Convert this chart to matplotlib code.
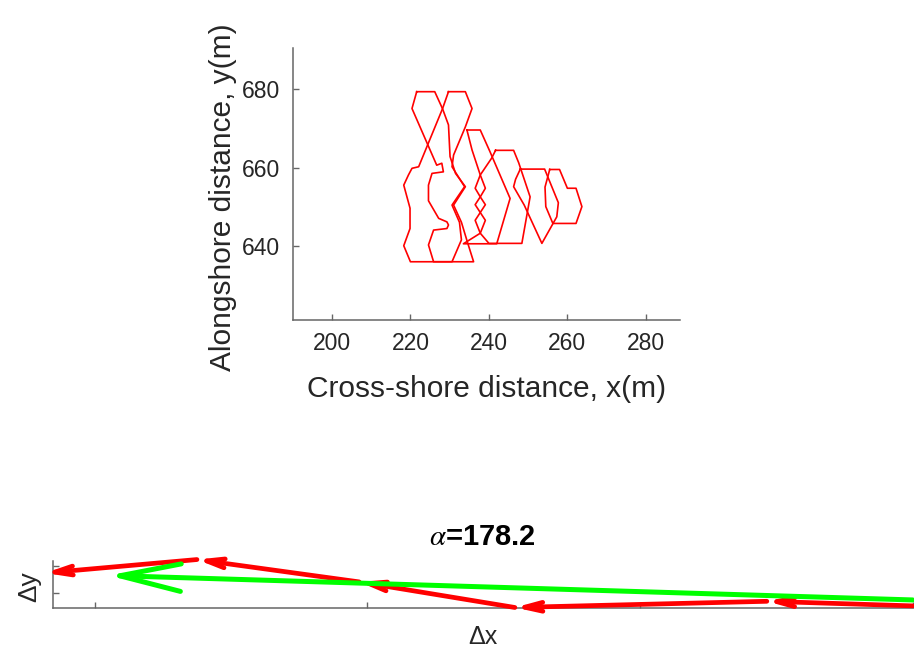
import matplotlib
matplotlib.use('Agg')
import matplotlib.pyplot as plt
from matplotlib.patches import FancyArrowPatch

plt.rcParams['font.family'] = ['Liberation Sans', 'DejaVu Sans']
plt.rcParams['mathtext.fontset'] = 'stix'

# ---------------- data: blob outlines (cross-shore x, alongshore y) ----------------
poly1_x = [255.5, 258.0, 260.0, 262.2, 263.7, 262.2, 256.3, 254.5, 254.3]
poly1_y = [659.5, 659.5, 654.7, 654.7, 650.0, 645.7, 645.7, 650.0, 655.0]

poly2_x = [248.0, 254.2, 257.7, 257.3, 253.5, 249.0, 246.3, 246.8]
poly2_y = [659.6, 659.6, 651.0, 647.4, 640.6, 650.4, 655.1, 657.0]

poly3_x = [241.7, 246.3, 247.6, 250.5, 248.4, 240.0, 237.8, 239.1, 237.8, 239.1, 237.8, 236.5, 237.8, 240.7]
poly3_y = [664.4, 664.4, 661.2, 652.5, 640.6, 640.6, 643.2, 646.5, 648.5, 650.5, 652.5, 654.7, 658.1, 662.4]

poly4_x = [234.4, 237.8, 240.3, 245.4, 242.0, 233.5, 237.8, 236.5, 237.8, 236.5, 237.8, 239.1, 237.8, 235.7]
poly4_y = [669.6, 669.6, 664.0, 652.1, 640.5, 640.5, 643.2, 646.5, 648.5, 650.5, 652.5, 654.7, 658.1, 664.5]

poly5_x = [221.6, 226.2, 228.2, 229.7, 230.1, 231.5, 234.0, 231.0, 233.0, 234.5, 236.1, 225.9, 224.6,
           225.9, 229.3, 229.7, 229.3, 227.2, 224.6, 224.6, 225.5, 228.4, 228.0, 226.7, 220.4]
poly5_y = [679.4, 679.4, 675.0, 670.9, 662.8, 658.5, 655.1, 650.4, 646.0, 641.0, 635.9, 635.9, 640.2,
           644.0, 644.4, 645.3, 646.1, 647.0, 651.5, 655.5, 658.5, 658.9, 661.1, 660.6, 675.1]

poly6_x = [229.7, 234.0, 235.7, 234.0, 231.0, 230.6, 233.8, 230.6, 232.5, 233.0, 230.6, 220.0, 218.3,
           219.9, 219.9, 218.3, 219.5, 220.4, 222.1, 228.2]
poly6_y = [679.4, 679.4, 675.1, 670.4, 663.2, 660.2, 655.1, 650.4, 646.0, 641.5, 635.9, 635.9, 640.0,
           644.4, 649.6, 655.5, 658.1, 659.8, 660.2, 675.1]

polys = [(poly1_x, poly1_y), (poly2_x, poly2_y), (poly3_x, poly3_y),
         (poly4_x, poly4_y), (poly5_x, poly5_y), (poly6_x, poly6_y)]

top_xticks = [200, 220, 240, 260, 280]
top_yticks = [640, 660, 680]

# ---------------- data: displacement chain (bottom panel) ----------------
red_x = [0.0, -5.35, -14.59, -20.3, -26.25, -31.82]
red_y = [-0.47, -0.30, -0.53, 0.42, 1.25, 0.75]
green_start = (0.0, -0.25)
green_end = (-29.5, 0.66)
alpha_deg = 178.2
bot_xticks = [-30, -20, -10, 0]
bot_yticks = [0, 1]

W, H = 914, 654
fig = plt.figure(figsize=(W / 100, H / 100), dpi=100)

axc = '0.4'
txtc = '0.15'

# ---------------- top axes ----------------
L, R, T, B = 292.7, 680.0, 48.3, 320.0
ax1 = fig.add_axes([L / W, 1 - B / H, (R - L) / W, (B - T) / H])
for px_, py_ in polys:
    ax1.plot(list(px_) + [px_[0]], list(py_) + [py_[0]], color='red', lw=1.2)
ax1.set_xlim(190, 288.7)
ax1.set_ylim(621, 690.5)
ax1.set_xticks(top_xticks)
ax1.set_yticks(top_yticks)
for s in ['top', 'right']:
    ax1.spines[s].set_visible(False)
for s in ['left', 'bottom']:
    ax1.spines[s].set_color(axc)
    ax1.spines[s].set_linewidth(1.1)
ax1.tick_params(direction='in', length=4, width=1, color=axc, labelcolor=txtc,
                labelsize=16.5, pad=9)
ax1.set_xlabel('Cross-shore distance, x(m)', fontsize=21.5, color=txtc)
ax1.set_ylabel('Alongshore distance, y(m)', fontsize=21.5, color=txtc)
ax1.xaxis.set_label_coords(0.5, (B - 375) / (B - T))
ax1.yaxis.set_label_coords((237 - L) / (R - L), (B - 197) / (B - T))

# ---------------- bottom axes ----------------
L2, R2, T2, B2 = 52.7, 912.7, 561.0, 608.3
ax2 = fig.add_axes([L2 / W, 1 - B2 / H, (R2 - L2) / W, (B2 - T2) / H])
ax2.set_xlim(-31.54, 0)
ax2.set_ylim(-0.56, 1.196)
ax2.set_xticks(bot_xticks)
ax2.set_yticks(bot_yticks)
ax2.set_xticklabels([])
ax2.set_yticklabels([])
for s in ['top', 'right']:
    ax2.spines[s].set_visible(False)
for s in ['left', 'bottom']:
    ax2.spines[s].set_color(axc)
    ax2.spines[s].set_linewidth(1.1)
ax2.tick_params(direction='in', length=4, width=1, color=axc)

for i in range(len(red_x) - 1):
    arr = FancyArrowPatch((red_x[i], red_y[i]), (red_x[i + 1], red_y[i + 1]),
                          arrowstyle='->,head_length=13,head_width=3.2',
                          mutation_scale=1, color='red', lw=3.4,
                          shrinkA=0, shrinkB=0, clip_on=False, zorder=3)
    ax2.add_patch(arr)

garr = FancyArrowPatch(green_start, green_end,
                       arrowstyle='->,head_length=44,head_width=9.9',
                       mutation_scale=1, color='#00ff00', lw=3.6,
                       shrinkA=0, shrinkB=0, clip_on=False, zorder=4)
ax2.add_patch(garr)

ax2.set_title(r'$\alpha$=' + f'{alpha_deg:.1f}', fontsize=21, fontweight='bold',
              color='black', pad=11.5)
ax2.set_xlabel('Δx', fontsize=18, color=txtc)
ax2.set_ylabel('Δy', fontsize=19, color=txtc)
ax2.xaxis.set_label_coords(0.5, (B2 - 625) / (B2 - T2))
ax2.yaxis.set_label_coords((41 - L2) / (R2 - L2), (B2 - 587) / (B2 - T2))

fig.savefig('out.png', dpi=100)
